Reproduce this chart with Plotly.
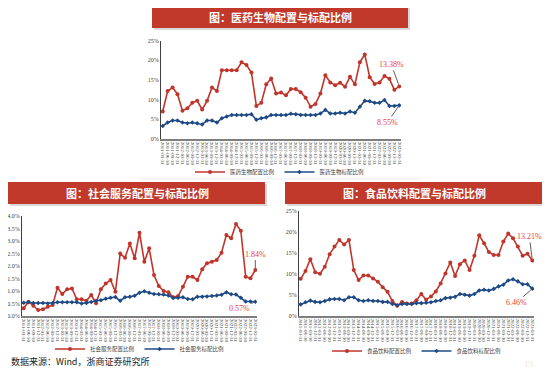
import plotly.graph_objects as go

# The page body has an 8px default margin, so the figure is laid out in a
# 542x360 box whose origin sits at (8, 8) of the 550x368 window.
OX, OY = 8, 8
W, H = 542, 360

# ---------------- data ----------------
quarter_ends = ["03-31", "06-30", "09-30", "12-31"]
quarters = [f"{y}-{q}" for y in range(2011, 2024) for q in quarter_ends][:49]

pharma_alloc = [7.0, 12.2, 13.1, 11.4, 7.2, 7.8, 9.2, 9.7, 7.5, 9.7,
                13.1, 12.2, 17.5, 17.5, 17.5, 17.5, 19.5, 18.8, 16.9, 8.4,
                9.2, 13.9, 15.4, 11.6, 11.8, 11.1, 12.7, 12.7, 11.9, 10.5,
                8.2, 8.9, 11.6, 16.2, 14.4, 13.7, 14.3, 13.3, 15.8, 13.9,
                19.5, 21.5, 15.7, 14.0, 14.4, 16.0, 15.3, 12.5, 13.38]
pharma_std = [3.3, 4.2, 4.7, 4.7, 4.2, 4.0, 4.2, 4.0, 3.7, 4.7,
              4.7, 4.2, 5.3, 5.7, 6.1, 6.1, 6.1, 6.1, 6.3, 4.9,
              5.3, 5.5, 6.1, 6.1, 6.1, 6.1, 6.4, 6.3, 6.1, 6.1,
              6.1, 6.1, 6.5, 7.4, 6.5, 6.5, 6.7, 6.5, 7.0, 6.7,
              8.2, 9.7, 9.6, 9.2, 9.2, 9.9, 8.4, 8.4, 8.55]

social_alloc = [0.31, 0.57, 0.41, 0.24, 0.27, 0.37, 0.44, 1.13, 0.88, 1.07,
                1.10, 0.67, 0.67, 0.61, 0.84, 0.51, 1.07, 1.30, 1.44, 0.97,
                2.50, 2.33, 2.90, 2.31, 3.33, 2.17, 2.71, 1.64, 1.20, 1.00,
                0.95, 0.75, 0.80, 1.17, 1.57, 1.57, 1.44, 1.87, 2.11, 2.17,
                2.24, 2.53, 3.24, 3.11, 3.68, 3.41, 1.57, 1.51, 1.84]
social_std = [0.53, 0.55, 0.52, 0.52, 0.52, 0.50, 0.52, 0.55, 0.55, 0.55,
              0.55, 0.55, 0.50, 0.52, 0.56, 0.61, 0.63, 0.69, 0.73, 0.76,
              0.61, 0.75, 0.77, 0.81, 0.93, 0.99, 0.93, 0.88, 0.87, 0.86,
              0.82, 0.72, 0.73, 0.75, 0.68, 0.67, 0.77, 0.77, 0.78, 0.80,
              0.82, 0.85, 0.95, 0.87, 0.86, 0.73, 0.58, 0.58, 0.57]

food_alloc = [8.8, 10.7, 13.5, 10.4, 10.0, 11.7, 14.7, 16.5, 18.1, 17.0,
              18.1, 10.9, 8.5, 9.6, 9.6, 8.9, 8.1, 6.8, 5.7, 3.5,
              2.4, 3.3, 2.9, 2.9, 3.7, 5.2, 3.8, 4.6, 5.8, 7.7,
              10.1, 12.7, 9.5, 12.3, 13.2, 10.9, 14.3, 19.2, 17.3, 15.2,
              14.5, 14.5, 17.7, 19.6, 18.5, 16.5, 14.3, 14.8, 13.21]
food_std = [2.7, 3.2, 3.6, 3.3, 3.2, 3.5, 3.9, 4.0, 4.0, 3.7,
            4.4, 4.4, 3.7, 3.5, 3.7, 3.5, 3.5, 3.3, 3.3, 2.8,
            2.5, 2.8, 2.8, 2.8, 3.0, 3.0, 3.1, 3.2, 3.5, 3.7,
            4.2, 4.3, 4.5, 5.2, 5.0, 4.8, 5.2, 6.0, 6.2, 6.0,
            6.4, 7.0, 7.4, 8.4, 8.7, 8.2, 7.5, 7.5, 6.46]

titles = ["图：医药生物配置与标配比例", "图：社会服务配置与标配比例", "图：食品饮料配置与标配比例"]
names = [("医药生物配置比例", "医药生物标配比例"),
         ("社会服务配置比例", "社会服务标配比例"),
         ("食品饮料配置比例", "食品饮料标配比例")]
source_text = "数据来源：Wind，浙商证券研究所"
page_no = "19"

RED = "#C0352B"
BLUE = "#1F4A86"
BANNER = "#C0392B"
SERIF = "Liberation Serif, Noto Sans CJK SC, serif"
CJK = "Noto Sans CJK SC, sans-serif"


def px_x(x):
    return (x - OX) / W


def px_y(y):
    return 1 - (y - OY) / H


# panel geometry in window pixels: (x0, x1, ytop, ybottom)
panels = [
    (161, 401, 40.7, 139.0),
    (22, 257, 216.0, 316.0),
    (299, 534, 211.0, 315.7),
]
yranges = [(0, 25), (0, 4), (0, 25)]
ydtick = [5, 0.5, 5]
yformat = [".0f", ".1f", ".0f"]
series = [(pharma_alloc, pharma_std), (social_alloc, social_std), (food_alloc, food_std)]
legend_pos = [(280, 172), (140, 349), (417, 351)]

fig = go.Figure()

for i in range(3):
    xa = "x" if i == 0 else f"x{i+1}"
    ya = "y" if i == 0 else f"y{i+1}"
    lg = "legend" if i == 0 else f"legend{i+1}"
    a, s = series[i]
    fig.add_trace(go.Scatter(x=quarters, y=a, name=names[i][0], mode="lines+markers",
                             line=dict(color=RED, width=1.6),
                             marker=dict(color=RED, size=4, symbol="circle"),
                             xaxis=xa, yaxis=ya, legend=lg))
    fig.add_trace(go.Scatter(x=quarters, y=s, name=names[i][1], mode="lines+markers",
                             line=dict(color=BLUE, width=1.6),
                             marker=dict(color=BLUE, size=3.5, symbol="diamond"),
                             xaxis=xa, yaxis=ya, legend=lg))
    x0, x1, yt, yb = panels[i]
    xkey = "xaxis" if i == 0 else f"xaxis{i+1}"
    ykey = "yaxis" if i == 0 else f"yaxis{i+1}"
    fig.update_layout(**{
        xkey: dict(domain=[px_x(x0), px_x(x1)], anchor=ya, type="category",
                   range=[-0.35, 48.35], showgrid=False, showline=True,
                   linecolor="#7F7F7F", linewidth=1.5, ticks="",
                   tickmode="array", tickvals=quarters, ticktext=quarters,
                   tickangle=90, tickfont=dict(family=SERIF, size=5, color="#404040"),
                   automargin=False, fixedrange=True),
        ykey: dict(domain=[px_y(yb), px_y(yt)], anchor=xa, range=list(yranges[i]),
                   dtick=ydtick[i], tick0=0, tickformat=yformat[i], ticksuffix="%",
                   showgrid=False, showline=True, linecolor="#404040", linewidth=1,
                   ticks="", zeroline=False,
                   tickfont=dict(family=SERIF, size=6, color="#404040"),
                   automargin=False, fixedrange=True),
        lg: dict(orientation="h", x=px_x(legend_pos[i][0]), y=px_y(legend_pos[i][1]),
                 xanchor="center", yanchor="middle", itemwidth=30,
                 font=dict(family=SERIF, size=5.5, color="#404040"),
                 bgcolor="rgba(0,0,0,0)", tracegroupgap=0),
    })

# banners
shapes = []
annotations = []
banners = [(152, 408, 6, 28, 280, 17), (8, 265, 182, 204, 137, 193), (285, 543, 182, 204, 414, 193)]
for k, (bx0, bx1, by0, by1, tx, ty) in enumerate(banners):
    shapes.append(dict(type="rect", xref="paper", yref="paper",
                       x0=px_x(bx0 + 2), x1=px_x(bx1 + 2), y0=px_y(by1 + 2), y1=px_y(by0 + 2),
                       fillcolor="#D9D9D9", line=dict(width=0), layer="below"))
    shapes.append(dict(type="rect", xref="paper", yref="paper",
                       x0=px_x(bx0), x1=px_x(bx1), y0=px_y(by1), y1=px_y(by0),
                       fillcolor=BANNER, line=dict(width=0), layer="below"))
    annotations.append(dict(text=f"<b>{titles[k]}</b>", xref="paper", yref="paper",
                            x=px_x(tx), y=px_y(ty), xanchor="center", yanchor="middle",
                            showarrow=False, font=dict(family=CJK, size=11, color="white")))

# faint separator under top panel
shapes.append(dict(type="line", xref="paper", yref="paper", x0=px_x(140), x1=px_x(420),
                   y0=px_y(179), y1=px_y(179), line=dict(color="#EDEDED", width=1)))

# value callouts
callouts = [
    ("x", "y", pharma_alloc, -8, -22),
    ("x", "y", pharma_std, -12, 17),
    ("x2", "y2", social_alloc, 0, -16),
    ("x2", "y2", social_std, -16, 7),
    ("x3", "y3", food_alloc, -3, -24),
    ("x3", "y3", food_std, -16, 14),
]
for xr, yr, arr, ax, ay in callouts:
    annotations.append(dict(xref=xr, yref=yr, x=quarters[-1], y=arr[-1],
                            text=f"{arr[-1]:.2f}%", showarrow=True, arrowhead=0,
                            arrowwidth=0.8, arrowcolor="#333333", ax=ax, ay=ay,
                            standoff=2, font=dict(family=SERIF, size=8, color="#E8413A")))

annotations.append(dict(text=source_text, xref="paper", yref="paper",
                        x=px_x(9), y=px_y(361), xanchor="left", yanchor="middle",
                        showarrow=False, font=dict(family=CJK, size=9, color="#222222")))
annotations.append(dict(text=page_no, xref="paper", yref="paper", x=px_x(529), y=px_y(364),
                        xanchor="center", yanchor="middle", showarrow=False,
                        font=dict(family=SERIF, size=9, color="#EDE6D0")))

fig.update_layout(width=W, height=H, margin=dict(l=0, r=0, t=0, b=0),
                  paper_bgcolor="white", plot_bgcolor="white",
                  shapes=shapes, annotations=annotations, showlegend=True)

fig.write_html("out.html")
